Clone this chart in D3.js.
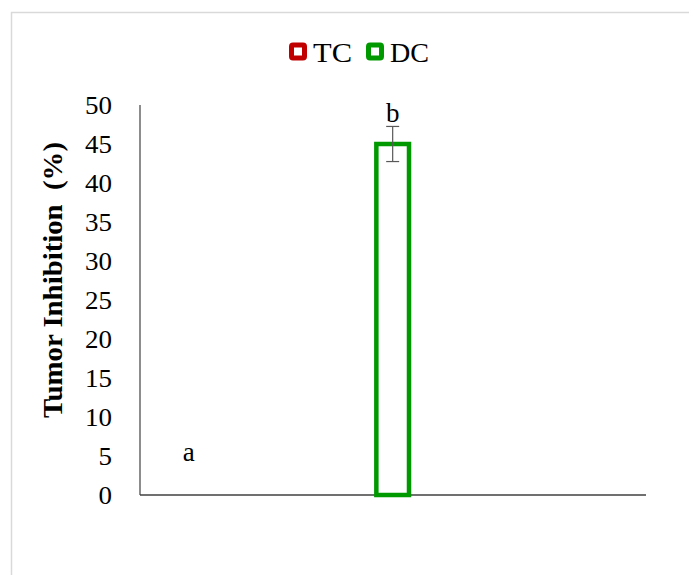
<!DOCTYPE html>
<html>
<head>
<meta charset="utf-8">
<script src="https://cdn.jsdelivr.net/npm/d3@7"></script>
<style>
  body { margin: 0; background: #fff; }
  text { font-family: "Liberation Serif", "Times New Roman", serif; }
</style>
</head>
<body>
<script>
// data
let series = ["TC", "DC"];
let values = [0, 45];
let errors = [0, 2.25];
let letters = ["a", "b"];
let letterAt = [5.6, 49];   // where the letters sit, in axis units
let colors = ["#c00000", "#009900"];
let yTicks = [0, 5, 10, 15, 20, 25, 30, 35, 40, 45, 50];

let width = 689, height = 575;
let margin = { top: 105, left: 140, bottom: 80, right: 43 };

let svg = d3.select("body").append("svg")
  .attr("width", width).attr("height", height);

// chart area frame (cut by the window on the right and bottom)
svg.append("rect")
  .attr("x", 11.5).attr("y", 12.5)
  .attr("width", 700).attr("height", 600)
  .attr("fill", "none").attr("stroke", "#d9d9d9").attr("stroke-width", 1.5);

let y = d3.scaleLinear().domain([0, 50]).range([height - margin.bottom, margin.top]);
let x = d3.scaleBand().domain(series)
  .range([margin.left, width - margin.right])
  .paddingInner(0.84).paddingOuter(0.66).align(0.12);

// y tick labels
svg.append("g").selectAll("text").data(yTicks).enter().append("text")
  .attr("x", 112).attr("y", function(d) { return y(d); })
  .attr("dy", "0.35em")
  .attr("text-anchor", "end")
  .attr("font-size", 25)
  .attr("textLength", function(d) { return String(d).length * 13.5; })
  .attr("lengthAdjust", "spacingAndGlyphs")
  .text(function(d) { return d; });

// axes lines
svg.append("line")
  .attr("x1", margin.left).attr("x2", margin.left)
  .attr("y1", y(50)).attr("y2", y(0))
  .attr("stroke", "#404040").attr("stroke-width", 1.2);
svg.append("line")
  .attr("x1", margin.left).attr("x2", width - margin.right)
  .attr("y1", y(0)).attr("y2", y(0))
  .attr("stroke", "#404040").attr("stroke-width", 1.5);

// bars
let bw = x.bandwidth();
svg.append("g").selectAll("rect").data(series).enter().append("rect")
  .attr("x", function(d) { return x(d); })
  .attr("y", function(d, i) { return y(values[i]); })
  .attr("width", bw)
  .attr("height", function(d, i) { return y(0) - y(values[i]); })
  .attr("fill", "none")
  .attr("stroke", function(d, i) { return colors[i]; })
  .attr("stroke-width", function(d, i) { return values[i] > 0 ? 4.5 : 0; });

// error bars
let eb = svg.append("g").attr("stroke", "#595959").attr("stroke-width", 1.2);
series.forEach(function(s, i) {
  if (errors[i] <= 0) return;
  let cx = x(s) + bw / 2;
  eb.append("line").attr("x1", cx).attr("x2", cx)
    .attr("y1", y(values[i] + errors[i])).attr("y2", y(values[i] - errors[i]));
  [values[i] + errors[i], values[i] - errors[i]].forEach(function(v) {
    eb.append("line").attr("x1", cx - 6.5).attr("x2", cx + 6.5)
      .attr("y1", y(v)).attr("y2", y(v));
  });
});

// significance letters
svg.append("g").selectAll("text").data(letters).enter().append("text")
  .attr("x", function(d, i) { return x(series[i]) + bw / 2; })
  .attr("y", function(d, i) { return y(letterAt[i]); })
  .attr("dy", "0.35em")
  .attr("text-anchor", "middle")
  .attr("font-size", 27)
  .text(function(d) { return d; });

// y axis title
svg.append("text")
  .attr("transform", "translate(62," + ((y(0) + y(50)) / 2 - 20) + ") rotate(-90)")
  .attr("text-anchor", "middle")
  .attr("font-size", 27)
  .attr("font-weight", "bold")
  .attr("textLength", 276)
  .attr("lengthAdjust", "spacingAndGlyphs")
  .text("Tumor Inhibition\u00a0 (%)");

// legend
let legX = [291.5, 368.5];
let leg = svg.append("g").selectAll("g").data(series).enter().append("g")
  .attr("transform", function(d, i) { return "translate(" + legX[i] + ",45)"; });
leg.append("rect")
  .attr("width", 13).attr("height", 13).attr("rx", 1.5)
  .attr("fill", "none")
  .attr("stroke", function(d, i) { return colors[i]; })
  .attr("stroke-width", 5);
leg.append("text")
  .attr("x", 21.5).attr("y", 16.5)
  .attr("font-size", 27)
  .attr("textLength", function(d) { return d.length * 19.5; })
  .attr("lengthAdjust", "spacingAndGlyphs")
  .text(function(d) { return d; });
</script>
</body>
</html>
